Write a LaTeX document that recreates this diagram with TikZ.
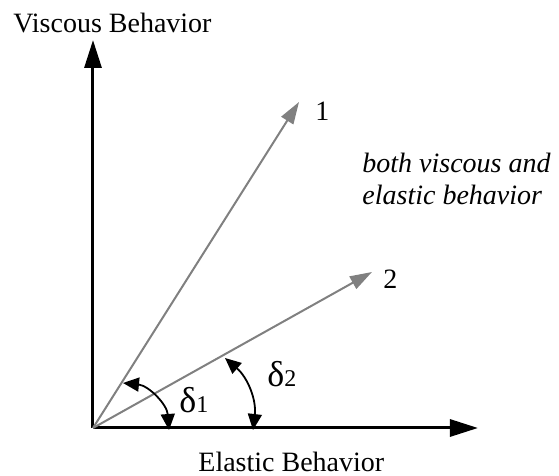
\documentclass[tikz,border=0pt]{standalone}
\usepackage{fontspec}
\setmainfont{Liberation Serif}
\usepackage{tikz}
\usetikzlibrary{calc,arrows.meta,positioning}
\definecolor{vecGray}{RGB}{128,128,128}
\definecolor{axisBlack}{RGB}{0,0,0}

\begin{document}
\begin{tikzpicture}[x=0.5pt,y=-0.5pt,
  axis/.style={axisBlack, line width=1.5pt, -{Triangle[length=14pt,width=8.5pt]}},
  vec/.style={vecGray, line width=1pt, -{Triangle[length=11pt,width=7pt]}},
  anglearc/.style={axisBlack, line width=0.9pt, {Triangle[length=8pt,width=7pt]}-{Triangle[length=8pt,width=7pt]}},
  lbl/.style={inner sep=0pt, anchor=base west, font=\fontsize{14}{17}\selectfont}]
\useasboundingbox (0,0) rectangle (559,476);

\coordinate (O) at (93,428);
\coordinate (ytip) at (93,40);
\coordinate (xtip) at (478,428);
\coordinate (v1) at (299,102);
\coordinate (v2) at (372,272);

\draw[axis] (O)--(ytip);
\draw[axis] (O)--(xtip);
\draw[vec] (O)--(v1);
\draw[vec] (O)--(v2);

% angle arcs
\coordinate (a1s) at (123,383);
\coordinate (a1e) at (169,430);
\coordinate (a2s) at (225,358);
\coordinate (a2e) at (253,430);
\draw[anglearc] (a1s) to[bend left=40] (a1e);
\draw[anglearc] (a2s) to[bend left=28] (a2e);

\node[lbl] (vlab) at (13,33) {Viscous Behavior};
\node[lbl] (elab) at (198,472) {Elastic Behavior};
\node[lbl] (one) at (315,121) {1};
\node[lbl] (two) at (383,289) {2};
\node[lbl, align=left, font=\fontsize{14}{16}\selectfont\itshape] (both) at (362,205) {both viscous and\\elastic behavior};
\node[lbl] (d1) at (179,413) {{\fontsize{18}{20}\selectfont δ}{\fontsize{12}{14}\selectfont 1}};
\node[lbl] (d2) at (267,387) {{\fontsize{18}{20}\selectfont δ}{\fontsize{12}{14}\selectfont 2}};

;
\end{tikzpicture}
\end{document}
